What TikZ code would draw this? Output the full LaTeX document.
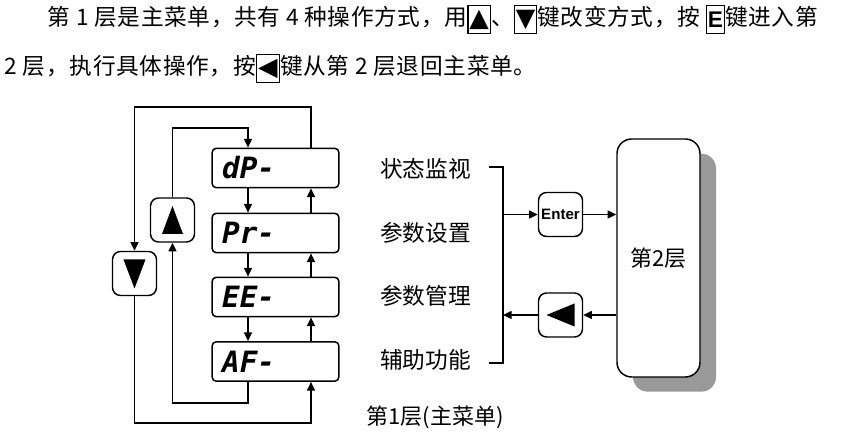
\documentclass[tikz,border=0pt]{standalone}
\usepackage{fontspec}
\setmainfont{Noto Sans CJK SC}
\newfontfamily\bodyfont[LetterSpace=3]{Noto Sans CJK SC}
\newfontfamily\segfont{DejaVu Sans Mono}
\newfontfamily\symfont{DejaVu Sans}
\newfontfamily\keyfont{Liberation Sans}
\usetikzlibrary{arrows.meta}
\usetikzlibrary{shadows}

% small framed key inside the running text
\newcommand{\inkey}[2]{\raisebox{-5.2pt}{\setlength{\fboxsep}{0pt}\setlength{\fboxrule}{0.9pt}\fbox{\parbox[b][20pt][c]{#1}{\centering #2}}}}

\begin{document}
\begin{tikzpicture}[x=0.75pt, y=-0.75pt, line width=1pt,
	arr/.style={-{Triangle[length=6.5pt,width=6pt]}},
	disp/.style={draw, line width=1.1pt, rounded corners=3pt, minimum width=95pt, minimum height=29.5pt, text width=80pt, inner xsep=7.5pt, align=left, font=\segfont\bfseries\itshape\fontsize{22}{22}\selectfont},
	keybox/.style={draw, line width=1.1pt, rounded corners=6pt, minimum width=33pt, minimum height=33pt, inner sep=0pt},
	menu/.style={font=\fontsize{17}{20}\selectfont},
	body/.style={inner sep=0pt, font=\bodyfont\fontsize{17}{20}\selectfont}]
		\useasboundingbox (0,0) rectangle (844,434);
		%
		%text above the picture
		\node[body, anchor=base west] (line1) at (47,26) {第 1 层是主菜单，共有 4 种操作方式，用\inkey{16pt}{\symfont\fontsize{19}{19}\selectfont ▲}、\inkey{16pt}{\symfont\fontsize{19}{19}\selectfont ▼}键改变方式，按 \inkey{12.5pt}{\keyfont\bfseries E}键进入第};
		\node[body, anchor=base west] (line2) at (4,75) {2 层，执行具体操作，按\inkey{16.5pt}{\symfont\fontsize{19}{19}\selectfont ◀}键从第 2 层退回主菜单。};
		%
		%first level: the four displays
		\node[disp] (dP) at (275.5,168) {dP-};
		\node[disp] (Pr) at (275.5,233) {Pr-};
		\node[disp] (EE) at (275.5,297) {EE-};
		\node[disp] (AF) at (275.5,361.5) {AF-};
		\coordinate (dn) at (248,0);
		\coordinate (upx) at (311,0);
		%
		%up and down keys
		\node[keybox] (kup) at (172.5,220) {};
		\node[keybox] (kdn) at (134.5,273.5) {};
		\fill ([shift={(-10.5,14)}]kup.center) -- ([shift={(10.5,14)}]kup.center) -- ([shift={(0,-14)}]kup.center) -- cycle;
		\fill ([shift={(-11,-14)}]kdn.center) -- ([shift={(11,-14)}]kdn.center) -- ([shift={(0,15)}]kdn.center) -- cycle;
		%
		%down through the menu
		\draw[arr] (dP.south -| dn) -- (Pr.north -| dn);
		\draw[arr] (Pr.south -| dn) -- (EE.north -| dn);
		\draw[arr] (EE.south -| dn) -- (AF.north -| dn);
		%
		%up through the menu
		\draw[arr] (Pr.north -| upx) -- (dP.south -| upx);
		\draw[arr] (EE.north -| upx) -- (Pr.south -| upx);
		\draw[arr] (AF.north -| upx) -- (EE.south -| upx);
		%
		%loops round the keys
		\coordinate (it) at (172.5,128);
		\coordinate (ib) at (172.5,403);
		\coordinate (ot) at (134.5,107);
		\coordinate (ob) at (134.5,423);
		\draw[arr] (kup.north) -- (it) -| (dP.north -| dn);
		\draw[arr] (AF.south -| dn) |- (ib) -- (kup.south);
		\draw[arr] (dP.north -| upx) |- (ot) -- (kdn.north);
		\draw[arr] (kdn.south) -- (ob) -| (AF.south -| upx);
		%
		%menu names
		\node[menu] (lab1) at (425.5,169) {状态监视};
		\node[menu] (lab2) at (425.5,233) {参数设置};
		\node[menu] (lab3) at (425.5,296) {参数管理};
		\node[menu] (lab4) at (425.5,360) {辅助功能};
		\node[font=\fontsize{16.5}{20}\selectfont] (title) at (435,417) {第1层(主菜单)};
		%
		%bracket
		\coordinate (bt0) at (489,167);
		\coordinate (bt) at (503,167);
		\coordinate (bb) at (503,363);
		\coordinate (bb0) at (489,363);
		\draw (bt0) -- (bt) -- (bb) -- (bb0);
		%
		%second level
		\node[draw, line width=1.1pt, fill=white, rounded corners=11pt, minimum width=62.25pt, minimum height=178.5pt, drop shadow={shadow xshift=12pt, shadow yshift=-11pt, fill=black!40, opacity=1}, font=\fontsize{16.5}{20}\selectfont] (lv2) at (658.5,258) {第2层};
		%
		%Enter
		\node[keybox, font=\keyfont\bfseries\fontsize{11.3}{12}\selectfont] (enter) at (560.5,214.5) {Enter};
		\draw[arr] (enter.west -| bt) -- (enter.west);
		\draw[arr] (enter.east) -- (enter.east -| lv2.west);
		%
		%back key
		\node[keybox] (back) at (560.5,315) {};
		\fill ([shift={(14,-11.5)}]back.center) -- ([shift={(14,11.5)}]back.center) -- ([shift={(-14,0)}]back.center) -- cycle;
		\draw[arr] (back.east -| lv2.west) -- (back.east);
		\draw[arr] (back.west) -- (back.west -| bt);
	\end{tikzpicture}
\end{document}
